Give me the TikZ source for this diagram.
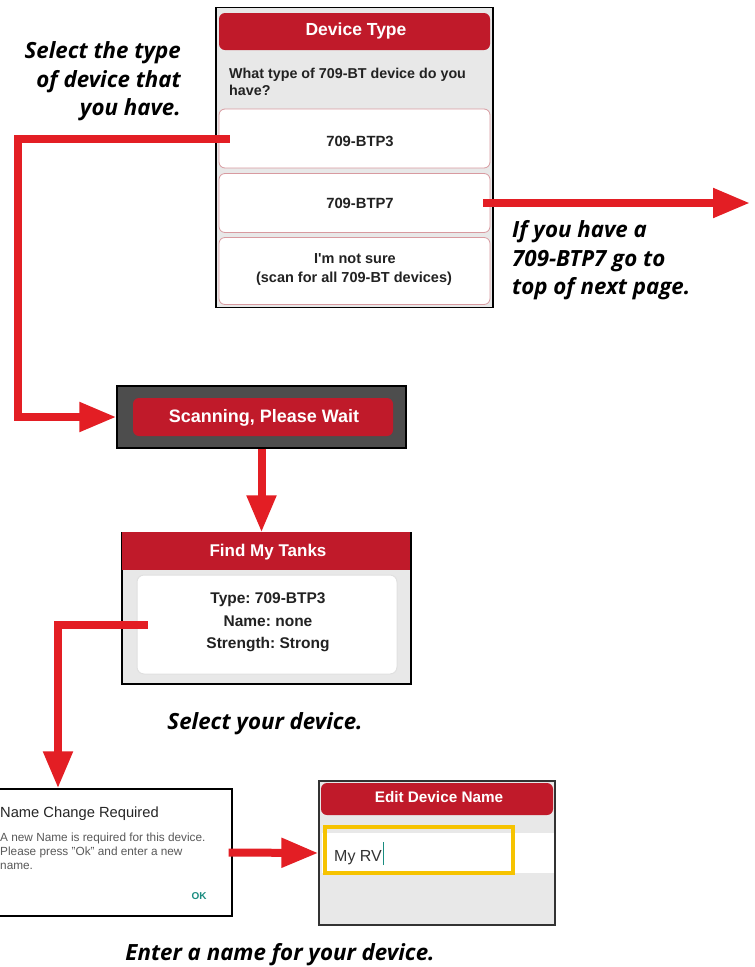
\documentclass[tikz,border=0pt]{standalone}
\usepackage{fontspec}
\setmainfont{Liberation Sans}
\newfontfamily\notefont{Open Sans}
\usetikzlibrary{arrows.meta}
\frenchspacing
\newcommand{\straightapos}{\XeTeXglyph\XeTeXglyphindex "quotesingle"\relax}
\definecolor{hdrred}{HTML}{C01A2A}
\definecolor{arrred}{HTML}{E31E24}
\definecolor{panelgray}{HTML}{E8E8E8}
\definecolor{btnedge}{HTML}{D89AA0}
\definecolor{txtdark}{HTML}{222222}
\definecolor{scangray}{HTML}{4D4D4D}
\definecolor{teal}{HTML}{1A8C80}
\definecolor{yel}{HTML}{F6C300}
\tikzset{
  panel/.style={draw=black, line width=1.3pt, fill=panelgray, inner sep=0pt},
  hdr/.style={fill=hdrred, rounded corners=6pt, inner sep=0pt},
  btn/.style={draw=btnedge, line width=0.8pt, fill=white, rounded corners=6pt, inner sep=0pt},
  hdrtxt/.style={text=white, font=\bfseries, anchor=base, inner sep=0pt},
  uitxt/.style={text=txtdark, anchor=base, inner sep=0pt},
  note/.style={text=black, font=\notefont\bfseries\itshape\fontsize{22.3}{28.5}\selectfont, inner sep=0pt},
  redarrow/.style={draw=arrred, line width=8pt, line join=miter,
    -{Triangle[length=37pt,width=28pt]}}
}
\begin{document}
\begin{tikzpicture}[x=1pt,y=-1pt]
\useasboundingbox (0,0) rectangle (755,967);
\fill[white] (0,0) rectangle (755,967);

% ---------- Device Type panel ----------
\node[panel, minimum width=277pt, minimum height=300pt] (dt) at (354.5,157.5) {};
\node[hdr, minimum width=271pt, minimum height=37pt] (dthdr) at (354.5,31.5) {};
\node[hdrtxt, font=\bfseries\fontsize{17.5}{20}\selectfont] (dttxt) at (356,35) {Device Type};
\node[uitxt, anchor=base west, font=\bfseries\fontsize{14.3}{16}\selectfont] (q1) at (229,78) {What type of 709-BT device do you};
\node[uitxt, anchor=base west, font=\bfseries\fontsize{14.3}{16}\selectfont] (q2) at (229,95) {have?};
\node[btn, minimum width=271pt, minimum height=59pt] (b1) at (354.5,138.5) {};
\node[btn, minimum width=271pt, minimum height=59pt] (b2) at (354.5,203) {};
\node[btn, minimum width=271pt, minimum height=67pt] (b3) at (354.5,271) {};
\node[uitxt, font=\bfseries\fontsize{14.8}{16}\selectfont] (b1t) at (360,146) {709-BTP3};
\node[uitxt, font=\bfseries\fontsize{14.8}{16}\selectfont] (b2t) at (360,208) {709-BTP7};
\node[uitxt, font=\bfseries\fontsize{14.5}{16}\selectfont] (b3t) at (355,263) {I\straightapos m not sure};
\node[uitxt, font=\bfseries\fontsize{14.5}{16}\selectfont] (b3u) at (354,282) {(scan for all 709-BT devices)};

% ---------- notes ----------
\node[note, anchor=base east] (n1a) at (181,58) {Select the type};
\node[note, anchor=base east] (n1b) at (181,87) {of device that};
\node[note, anchor=base east] (n1c) at (181,115) {you have.};
\node[note, anchor=base west] (n2a) at (512,237) {If you have a};
\node[note, anchor=base west] (n2b) at (512,266) {709-BTP7 go to};
\node[note, anchor=base west] (n2c) at (512,294) {top of next page.};
\node[note, anchor=base] (n3) at (265,729) {Select your device.};
\node[note, anchor=base] (n4) at (280,960) {Enter a name for your device.};

% ---------- Scanning ----------
\node[draw=black, line width=1.3pt, fill=scangray, minimum width=289pt, minimum height=62pt, inner sep=0pt] (scan) at (261.5,417) {};
\node[hdr, minimum width=260pt, minimum height=38pt] (scanbar) at (263,417) {};
\node[hdrtxt, font=\bfseries\fontsize{18}{20}\selectfont] (scantxt) at (264,422) {Scanning, Please Wait};

% ---------- Find My Tanks ----------
\node[panel, minimum width=289pt, minimum height=151pt] (fmt) at (266.5,608.5) {};
\fill[hdrred] ([shift={(0.65pt,0.65pt)}]fmt.north west) rectangle (410.35,570);
\node[hdrtxt, font=\bfseries\fontsize{17}{20}\selectfont] (fmttxt) at (268,556) {Find My Tanks};
\node[fill=white, draw=black!12, line width=1pt, rounded corners=7pt, minimum width=260pt, minimum height=99pt, inner sep=0pt] (card) at (267,624.5) {};
\node[uitxt, font=\bfseries\fontsize{15.5}{18}\selectfont] (c1) at (268,603) {Type: 709-BTP3};
\node[uitxt, font=\bfseries\fontsize{15.5}{18}\selectfont] (c2) at (268,626) {Name: none};
\node[uitxt, font=\bfseries\fontsize{15.5}{18}\selectfont] (c3) at (268,648) {Strength: Strong};

% ---------- Name Change Required ----------
\node[draw=black, line width=1.3pt, fill=white, minimum width=236pt, minimum height=127pt, inner sep=0pt] (ncr) at (114,852.5) {};
\node[uitxt, anchor=base west, font=\fontsize{14.7}{17}\selectfont, text=black!85] (ncrt) at (0,817) {Name Change Required};
\node[uitxt, anchor=base west, font=\fontsize{11.8}{13}\selectfont, text=black!65] (ncr1) at (0,841) {A new Name is required for this device.};
\node[uitxt, anchor=base west, font=\fontsize{11.8}{13}\selectfont, text=black!65] (ncr2) at (0,855) {Please press "Ok" and enter a new};
\node[uitxt, anchor=base west, font=\fontsize{11.8}{13}\selectfont, text=black!65] (ncr3) at (0,869) {name.};
\node[uitxt, font=\bfseries\fontsize{10}{12}\selectfont, text=teal] (ok) at (199,899) {OK};

% ---------- Edit Device Name ----------
\node[draw=black!80, line width=1.3pt, fill=panelgray, minimum width=236pt, minimum height=144pt, inner sep=0pt] (ed) at (437,853) {};
\node[hdr, minimum width=232pt, minimum height=32pt] (edhdr) at (437,799) {};
\node[hdrtxt, font=\bfseries\fontsize{15.3}{18}\selectfont] (edtxt) at (439,802) {Edit Device Name};
\fill[white] (322,833) rectangle (554.35,873);
\node[draw=yel, line width=4pt, minimum width=188pt, minimum height=46pt, inner sep=0pt] (field) at (419,850) {};
\node[uitxt, anchor=base west, font=\fontsize{16}{18}\selectfont, text=black!80] (rv) at (334,861) {My RV};
\draw[teal, line width=1pt] ([xshift=1pt]rv.base east) ++(0,4) -- ++(0,-23);

% ---------- connectors ----------
\coordinate (next) at (750,203);
\draw[redarrow] ([xshift=11pt]b1.west) -- ++(-212,0) |- (scan.west);
\draw[redarrow] ([xshift=-7pt]b2.east) -- (next);
\draw[redarrow] (scan.south) -- (scan.south |- fmt.north);
\draw[redarrow] ([xshift=11pt]card.west) -| ([xshift=-56pt]ncr.north);
\draw[redarrow] ([xshift=-4pt]ncr.east) -- (ed.west);
\end{tikzpicture}
\end{document}
